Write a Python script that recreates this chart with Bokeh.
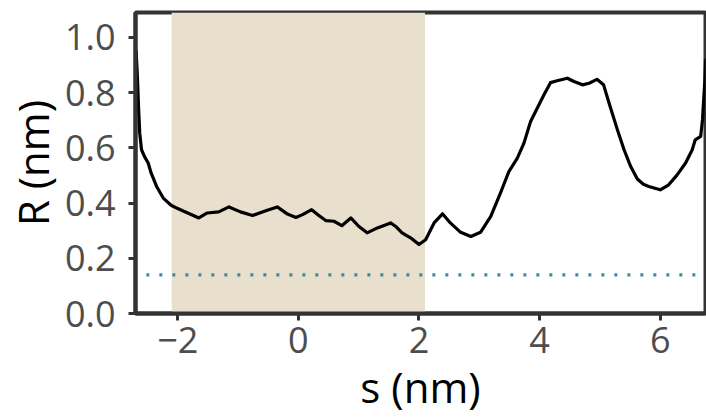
from bokeh.plotting import figure
from bokeh.models import Range1d, BoxAnnotation, FixedTicker, PrintfTickFormatter
from bokeh.embed import file_html
from bokeh.resources import INLINE

# ---- data ----
s_nm = [-2.69, -2.67, -2.65, -2.63, -2.60, -2.55, -2.49, -2.44, -2.35, -2.24,
        -2.11, -2.00, -1.90, -1.75, -1.65, -1.51, -1.32, -1.15, -0.96, -0.76,
        -0.54, -0.35, -0.18, -0.04, 0.07, 0.22, 0.34, 0.46, 0.59, 0.72,
        0.87, 1.00, 1.14, 1.31, 1.53, 1.61, 1.72, 1.86, 2.00, 2.11,
        2.25, 2.39, 2.52, 2.69, 2.86, 3.02, 3.19, 3.35, 3.49, 3.63,
        3.74, 3.85, 3.96, 4.07, 4.18, 4.29, 4.46, 4.57, 4.71, 4.82,
        4.95, 5.06, 5.17, 5.29, 5.40, 5.51, 5.62, 5.72, 5.81, 6.00,
        6.14, 6.28, 6.42, 6.53, 6.58, 6.67, 6.70, 6.74, 6.75]
R_nm = [0.950, 0.865, 0.749, 0.653, 0.593, 0.568, 0.545, 0.508, 0.460, 0.418,
        0.392, 0.380, 0.370, 0.356, 0.346, 0.364, 0.368, 0.386, 0.368, 0.355,
        0.372, 0.386, 0.360, 0.348, 0.358, 0.376, 0.355, 0.336, 0.334, 0.318,
        0.346, 0.316, 0.292, 0.310, 0.328, 0.316, 0.292, 0.274, 0.250, 0.267,
        0.328, 0.361, 0.328, 0.294, 0.279, 0.294, 0.352, 0.436, 0.514, 0.563,
        0.617, 0.695, 0.743, 0.791, 0.836, 0.843, 0.852, 0.840, 0.828, 0.834,
        0.848, 0.828, 0.749, 0.665, 0.593, 0.532, 0.487, 0.468, 0.460, 0.448,
        0.466, 0.502, 0.545, 0.593, 0.629, 0.641, 0.701, 0.846, 0.918]

shade_region = [-2.1, 2.1]
threshold_R = 0.14
threshold_span = [-2.52, 6.6]

x_ticks = [-2, 0, 2, 4, 6]
x_tick_labels = ["\u22122", "0", "2", "4", "6"]
y_ticks = [0.0, 0.2, 0.4, 0.6, 0.8, 1.0]

FONT = "Open Sans"

p = figure(width=706, height=417,
           x_range=Range1d(-2.70, 6.75), y_range=Range1d(0, 1.09),
           output_backend="svg", toolbar_location=None,
           min_border_left=135, min_border_right=1,
           min_border_top=12, min_border_bottom=103)

p.grid.visible = False
p.background_fill_color = "white"
p.border_fill_color = "white"
p.outline_line_color = "#333333"
p.outline_line_width = 4

p.add_layout(BoxAnnotation(left=shade_region[0], right=shade_region[1],
                           fill_color="#e8dfcc", fill_alpha=1.0,
                           line_alpha=0, level="underlay"))

p.line([threshold_span[0], threshold_span[1]], [threshold_R, threshold_R],
       line_color="#3a8ca0", line_width=3.4, line_dash="3 10")

p.line(s_nm, R_nm, line_color="black", line_width=3.2,
       line_join="round", line_cap="round")

for ax in (p.xaxis[0], p.yaxis[0]):
    ax.axis_line_color = "#333333"
    ax.axis_line_width = 4
    ax.major_tick_line_color = "#333333"
    ax.major_tick_line_width = 3
    ax.major_tick_out = 7
    ax.major_tick_in = 0
    ax.minor_tick_line_color = None
    ax.major_label_text_font = FONT
    ax.major_label_text_font_size = "36px"
    ax.major_label_text_color = "#4d4d4d"
    ax.axis_label_text_font = FONT
    ax.axis_label_text_font_size = "42px"
    ax.axis_label_text_color = "black"
    ax.axis_label_text_font_style = "normal"

p.xaxis.ticker = FixedTicker(ticks=x_ticks)
p.xaxis.major_label_overrides = {t: l for t, l in zip(x_ticks, x_tick_labels)}
p.yaxis.ticker = FixedTicker(ticks=y_ticks)
p.yaxis.formatter = PrintfTickFormatter(format="%.1f")

p.xaxis.axis_label = "s (nm)"
p.yaxis.axis_label = "R (nm)"
p.xaxis.major_label_standoff = 6
p.yaxis.major_label_standoff = 13
p.xaxis.axis_label_standoff = 2
p.yaxis.axis_label_standoff = 1

open("out.html", "w").write(file_html(p, INLINE))
